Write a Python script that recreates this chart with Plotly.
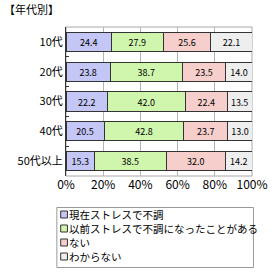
import plotly.graph_objects as go

categories = ["10代", "20代", "30代", "40代", "50代以上"]
series_names = ["現在ストレスで不調", "以前ストレスで不調になったことがある", "ない", "わからない"]
s_now = [24.4, 23.8, 22.2, 20.5, 15.3]
s_before = [27.9, 38.7, 42.0, 42.8, 38.5]
s_none = [25.6, 23.5, 22.4, 23.7, 32.0]
s_unknown = [22.1, 14.0, 13.5, 13.0, 14.2]
x_ticks = [0, 20, 40, 60, 80, 100]
x_tick_labels = ["0%", "20%", "40%", "60%", "80%", "100%"]

colors = ["#c4c6f6", "#d0f6ae", "#f6cfcc", "#eeeeee"]
values = [s_now, s_before, s_none, s_unknown]

W, H = 280, 280
L, R, T, B = 66, 21, 27, 104
PW, PH = W - L - R, H - T - B
FONT = "Noto Sans CJK JP"

def px(x):
    return (x - L) / PW

def py(y):
    return (H - B - y) / PH

fig = go.Figure()
for name, vals, col in zip(series_names, values, colors):
    fig.add_trace(go.Bar(
        y=categories, x=vals, name=name, orientation="h",
        marker=dict(color=col, line=dict(color="#333333", width=1)),
        width=0.64,
        text=[f"{v:.1f}" for v in vals], textposition="inside",
        insidetextanchor="middle", textangle=0,
        textfont=dict(family=FONT, size=11, color="#000000"),
        showlegend=False,
    ))

shapes = []
shapes.append(dict(type="rect", xref="paper", yref="paper", x0=0, x1=1, y0=0, y1=1,
                   line=dict(color="#a8a8a8", width=1), layer="below"))
shapes.append(dict(type="rect", xref="paper", yref="paper",
                   x0=px(56.5), x1=px(260.5), y0=py(207.5), y1=py(267.5),
                   line=dict(color="#999999", width=1)))
annotations = []
annotations.append(dict(text="【年代別】", xref="paper", yref="paper", x=px(1), y=py(9),
                        xanchor="left", yanchor="middle", showarrow=False, borderpad=0,
                        font=dict(family=FONT, size=11, color="#000000")))
row_y = [214.5, 228.5, 242.5, 256.5]
for name, col, yy in zip(series_names, colors, row_y):
    shapes.append(dict(type="rect", xref="paper", yref="paper",
                       x0=px(60.5), x1=px(67.5), y0=py(yy + 3.5), y1=py(yy - 3.5),
                       fillcolor=col, line=dict(color="#333333", width=1)))
    annotations.append(dict(text=name, xref="paper", yref="paper", x=px(68), y=py(yy),
                            xanchor="left", yanchor="middle", showarrow=False, borderpad=0,
                            font=dict(family=FONT, size=10.5, color="#000000")))

fig.update_layout(
    width=W, height=H, margin=dict(l=L, r=R, t=T, b=B),
    barmode="stack", bargap=0.36,
    plot_bgcolor="#ffffff", paper_bgcolor="#ffffff",
    shapes=shapes, annotations=annotations,
    font=dict(family=FONT, size=11, color="#000000"),
    uniformtext=dict(mode="show", minsize=8),
)
fig.update_xaxes(range=[0, 100], tickvals=x_ticks, ticktext=x_tick_labels,
                 showgrid=True, gridcolor="#b4b4b4", gridwidth=1,
                 zeroline=False, showline=False, ticks="",
                 tickfont=dict(family=FONT, size=12, color="#000000"), fixedrange=True)
fig.update_yaxes(autorange="reversed", showline=True, linecolor="#333333", linewidth=1,
                 ticks="inside", tickson="boundaries", ticklen=3, tickcolor="#333333",
                 showgrid=False, zeroline=False,
                 tickfont=dict(family=FONT, size=11, color="#000000"), fixedrange=True)

fig.write_html("out.html")
